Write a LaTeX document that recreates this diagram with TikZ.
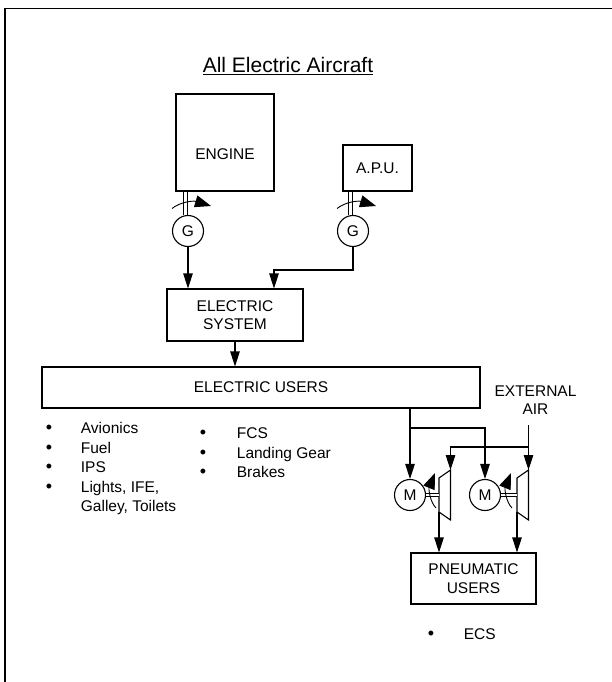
\documentclass[tikz,border=0pt]{standalone}
\usepackage{fontspec}
\setmainfont{Liberation Sans}
\usetikzlibrary{arrows.meta}

\begin{document}
\begin{tikzpicture}[x = 1pt, y = -1pt, line width = 1.1pt,
                    every node/.style = {font = \fontsize{15.5}{18.5}\selectfont},
                    box/.style = {draw, inner sep = 0pt},
                    dot/.style = {anchor = base, font = \fontsize{18}{18}\selectfont},
                    machine/.style = {circle, draw, minimum size = 31pt, inner sep = 0pt},
                    arr/.style = {-{Triangle[length = 15pt, width = 9.5pt]}},
                    spin/.style = {line width = 0.9pt, -{Triangle[length = 16pt, width = 12pt]}},
                    shaft/.style = {double, double distance = 2.4pt, line width = 0.9pt}]

\useasboundingbox (0,0) rectangle (612,682);
\draw[line width = 1.5pt] (5,682) -- (5,8.5) -- (612,8.5);

\node [anchor = base, font = \fontsize{21}{24}\selectfont] (title) at (288,73) {\underline{All Electric Aircraft}};

% sources
\node [box, minimum width = 98pt, minimum height = 97pt] (engine) at (225,142.5) {};
\node (enginetext) at (225,154) {ENGINE};
\node [box, minimum width = 69pt, minimum height = 46pt] (apu) at (377.5,168) {A.P.U.};

% generators
\node [machine] (G1) at (188,231) {G};
\node [machine] (G2) at (353,231) {G};
\draw [shaft] ([xshift = -2.5pt]G1.north) -- ([xshift = -2.5pt]G1.north |- engine.south);
\draw [shaft] ([xshift = -2.5pt]G2.north) -- ([xshift = -2.5pt]G2.north |- apu.south);
\draw [spin] (172,208.5) .. controls (180,202) and (193,200.5) .. (211,206);
\draw [spin] (337,208.5) .. controls (345,202) and (358,200.5) .. (376,206);

% electric system
\node [box, minimum width = 136pt, minimum height = 52pt, align = center] (es) at (235,315) {ELECTRIC\\SYSTEM};
\coordinate (apubend) at (274,270);
\draw [arr] (G1.south) -- (G1.south |- es.north);
\draw [arr] (G2.south) |- (apubend) -- (apubend |- es.north);

% electric users
\node [box, minimum width = 438pt, minimum height = 41pt] (eu) at (261,387.5) {ELECTRIC USERS};
\draw [arr] (es.south) -- (es.south |- eu.north);

\node [dot] (b1) at (49,433.5) {•};
\node [dot] (b2) at (49,453) {•};
\node [dot] (b3) at (49,472.5) {•};
\node [dot] (b4) at (49,492) {•};
\node [anchor = base west] (avionics) at (77,433.5) {Avionics};
\node [anchor = base west] (fuel) at (77,453) {Fuel};
\node [anchor = base west] (ips) at (77,472.5) {IPS};
\node [anchor = base west] (lights) at (77,492) {Lights, IFE,};
\node [anchor = base west] (galley) at (77,511.5) {Galley, Toilets};

\node [dot] (b5) at (203,438.5) {•};
\node [dot] (b6) at (203,458) {•};
\node [dot] (b7) at (203,477.5) {•};
\node [anchor = base west] (fcs) at (233,438.5) {FCS};
\node [anchor = base west] (gear) at (233,458) {Landing Gear};
\node [anchor = base west] (brakes) at (233,477.5) {Brakes};

% motors
\node [machine] (M1) at (410,495) {M};
\node [machine] (M2) at (485,495) {M};
\coordinate (split) at (410,428);
\draw [arr] (eu.south -| M1) -- (M1.north);
\draw [arr] (split) -| (M2.north);

% compressors
\coordinate (C1in) at (450.5,470);
\coordinate (C1out) at (439,512);
\coordinate (C2in) at (528.5,470);
\coordinate (C2out) at (517,512);
\draw (C1in) -- (439,478) -- (C1out) -- (450.5,520) -- cycle;
\draw (C2in) -- (517,478) -- (C2out) -- (528.5,520) -- cycle;
\draw [shaft] (M1.east) -- (M1.east -| C1out);
\draw [shaft] (M2.east) -- (M2.east -| C2out);
\draw [spin] (436,508) .. controls (430,502) and (428.5,489) .. (435,473);
\draw [spin] (512,508) .. controls (506,502) and (504.5,489) .. (511,473);

% external air
\node [align = center] (extair) at (535.5,400) {EXTERNAL\\AIR};
\coordinate (air) at (528.5,425);
\coordinate (airsplit) at (528.5,447);
\draw [arr] (air) -- (C2in);
\draw [arr] (airsplit) -| (C1in);

% pneumatic users
\node [box, minimum width = 125pt, minimum height = 51pt, align = center] (pn) at (473.5,578.5) {PNEUMATIC\\USERS};
\draw [arr] (C1out) -- (C1out |- pn.north);
\draw [arr] (C2out) -- (C2out |- pn.north);
\node [dot] (b8) at (431,639.5) {•};
\node [anchor = base west] (ecs) at (460,639.5) {ECS};
\end{tikzpicture}
\end{document}
